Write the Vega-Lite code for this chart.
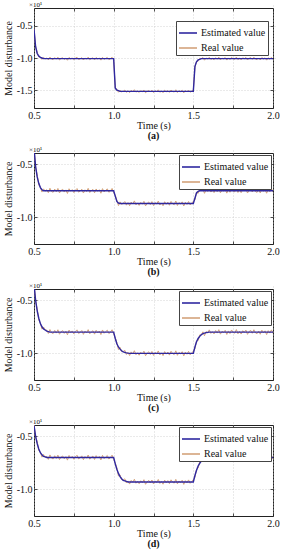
{
"$schema":"https://vega.github.io/schema/vega-lite/v6.json",
"background":"white",
"padding":{"left":2,"top":0,"right":0,"bottom":0},
"spacing":3,
"resolve":{"scale":{"color":"independent"},"legend":{"color":"independent"}},
"config":{
 "font":"Liberation Serif",
 "view":{"stroke":"#222","strokeWidth":1},
 "axis":{"labelFont":"Liberation Serif","titleFont":"Liberation Serif","labelFontSize":10,"titleFontSize":10,"titleFontWeight":"normal","labelColor":"#111","titleColor":"#111","domain":false,"tickColor":"#222","tickSize":3,"offset":-3,"tickWidth":0.8,"labelPadding":2,"minExtent":0,"gridColor":"#c4c4c4","gridDash":[1,2],"gridWidth":0.7},
 "axisX":{"titlePadding":0,"labelFlush":false},
 "axisY":{"titlePadding":3},
 "legend":{"strokeColor":"#444","fillColor":"#ffffff","padding":2,"symbolType":"M-1,0H1","symbolSize":324,"symbolStrokeWidth":1.6,"labelFont":"Liberation Serif","labelFontSize":10,"labelColor":"#111","rowPadding":0,"labelOffset":3,"cornerRadius":0}
},
"datasets":{"s":[
{"t":0.5,"ae":-0.55,"ar":-0.538,"be":-0.35,"br":-0.338,"ce":-0.35,"cr":-0.338,"de":-0.4,"dr":-0.388},
{"t":0.51,"ae":-0.82,"ar":-0.828,"be":-0.52,"br":-0.528,"ce":-0.5,"cr":-0.508,"de":-0.5,"dr":-0.508},
{"t":0.52,"ae":-0.93,"ar":-0.91,"be":-0.62,"br":-0.6,"ce":-0.6,"cr":-0.58,"de":-0.57,"dr":-0.55},
{"t":0.53,"ae":-0.97,"ar":-0.985,"be":-0.68,"br":-0.695,"ce":-0.67,"cr":-0.685,"de":-0.62,"dr":-0.635},
{"t":0.54,"ae":-0.99,"ar":-0.985,"be":-0.72,"br":-0.715,"ce":-0.72,"cr":-0.715,"de":-0.655,"dr":-0.65},
{"t":0.55,"ae":-1.0,"ar":-1.022,"be":-0.74,"br":-0.762,"ce":-0.75,"cr":-0.772,"de":-0.675,"dr":-0.697},
{"t":0.56,"ae":-1.01,"ar":-0.992,"be":-0.75,"br":-0.732,"ce":-0.77,"cr":-0.752,"de":-0.69,"dr":-0.672},
{"t":0.57,"ae":-1.01,"ar":-1.013,"be":-0.75,"br":-0.753,"ce":-0.78,"cr":-0.783,"de":-0.695,"dr":-0.698},
{"t":0.58,"ae":-1.01,"ar":-1.0,"be":-0.75,"br":-0.74,"ce":-0.79,"cr":-0.78,"de":-0.7,"dr":-0.69},
{"t":0.59,"ae":-1.01,"ar":-1.028,"be":-0.75,"br":-0.768,"ce":-0.795,"cr":-0.813,"de":-0.7,"dr":-0.718},
{"t":0.6,"ae":-1.01,"ar":-0.986,"be":-0.75,"br":-0.726,"ce":-0.8,"cr":-0.776,"de":-0.7,"dr":-0.676},
{"t":0.61,"ae":-1.01,"ar":-1.016,"be":-0.75,"br":-0.756,"ce":-0.8,"cr":-0.806,"de":-0.7,"dr":-0.706},
{"t":0.62,"ae":-1.01,"ar":-1.024,"be":-0.75,"br":-0.764,"ce":-0.8,"cr":-0.814,"de":-0.7,"dr":-0.714},
{"t":0.63,"ae":-1.01,"ar":-0.994,"be":-0.75,"br":-0.734,"ce":-0.8,"cr":-0.784,"de":-0.7,"dr":-0.684},
{"t":0.64,"ae":-1.01,"ar":-1.019,"be":-0.75,"br":-0.759,"ce":-0.8,"cr":-0.809,"de":-0.7,"dr":-0.709},
{"t":0.65,"ae":-1.01,"ar":-0.988,"be":-0.75,"br":-0.728,"ce":-0.8,"cr":-0.778,"de":-0.7,"dr":-0.678},
{"t":0.66,"ae":-1.01,"ar":-1.03,"be":-0.75,"br":-0.77,"ce":-0.8,"cr":-0.82,"de":-0.7,"dr":-0.72},
{"t":0.67,"ae":-1.01,"ar":-1.007,"be":-0.75,"br":-0.747,"ce":-0.8,"cr":-0.797,"de":-0.7,"dr":-0.697},
{"t":0.68,"ae":-1.01,"ar":-0.996,"be":-0.75,"br":-0.736,"ce":-0.8,"cr":-0.786,"de":-0.7,"dr":-0.686},
{"t":0.69,"ae":-1.01,"ar":-1.022,"be":-0.75,"br":-0.762,"ce":-0.8,"cr":-0.812,"de":-0.7,"dr":-0.712},
{"t":0.7,"ae":-1.01,"ar":-1.002,"be":-0.75,"br":-0.742,"ce":-0.8,"cr":-0.792,"de":-0.7,"dr":-0.692},
{"t":0.71,"ae":-1.01,"ar":-1.035,"be":-0.75,"br":-0.775,"ce":-0.8,"cr":-0.825,"de":-0.7,"dr":-0.725},
{"t":0.72,"ae":-1.01,"ar":-0.991,"be":-0.75,"br":-0.731,"ce":-0.8,"cr":-0.781,"de":-0.7,"dr":-0.681},
{"t":0.73,"ae":-1.01,"ar":-1.014,"be":-0.75,"br":-0.754,"ce":-0.8,"cr":-0.804,"de":-0.7,"dr":-0.704},
{"t":0.74,"ae":-1.01,"ar":-0.999,"be":-0.75,"br":-0.739,"ce":-0.8,"cr":-0.789,"de":-0.7,"dr":-0.689},
{"t":0.75,"ae":-1.01,"ar":-1.027,"be":-0.75,"br":-0.767,"ce":-0.8,"cr":-0.817,"de":-0.7,"dr":-0.717},
{"t":0.76,"ae":-1.01,"ar":-1.004,"be":-0.75,"br":-0.744,"ce":-0.8,"cr":-0.794,"de":-0.7,"dr":-0.694},
{"t":0.77,"ae":-1.01,"ar":-0.989,"be":-0.75,"br":-0.729,"ce":-0.8,"cr":-0.779,"de":-0.7,"dr":-0.679},
{"t":0.78,"ae":-1.01,"ar":-1.023,"be":-0.75,"br":-0.763,"ce":-0.8,"cr":-0.813,"de":-0.7,"dr":-0.713},
{"t":0.79,"ae":-1.01,"ar":-1.012,"be":-0.75,"br":-0.752,"ce":-0.8,"cr":-0.802,"de":-0.7,"dr":-0.702},
{"t":0.8,"ae":-1.01,"ar":-0.995,"be":-0.75,"br":-0.735,"ce":-0.8,"cr":-0.785,"de":-0.7,"dr":-0.685},
{"t":0.81,"ae":-1.01,"ar":-1.031,"be":-0.75,"br":-0.771,"ce":-0.8,"cr":-0.821,"de":-0.7,"dr":-0.721},
{"t":0.82,"ae":-1.01,"ar":-1.001,"be":-0.75,"br":-0.741,"ce":-0.8,"cr":-0.791,"de":-0.7,"dr":-0.691},
{"t":0.83,"ae":-1.01,"ar":-1.017,"be":-0.75,"br":-0.757,"ce":-0.8,"cr":-0.807,"de":-0.7,"dr":-0.707},
{"t":0.84,"ae":-1.01,"ar":-0.987,"be":-0.75,"br":-0.727,"ce":-0.8,"cr":-0.777,"de":-0.7,"dr":-0.677},
{"t":0.85,"ae":-1.01,"ar":-1.026,"be":-0.75,"br":-0.766,"ce":-0.8,"cr":-0.816,"de":-0.7,"dr":-0.716},
{"t":0.86,"ae":-1.01,"ar":-1.008,"be":-0.75,"br":-0.748,"ce":-0.8,"cr":-0.798,"de":-0.7,"dr":-0.698},
{"t":0.87,"ae":-1.01,"ar":-0.997,"be":-0.75,"br":-0.737,"ce":-0.8,"cr":-0.787,"de":-0.7,"dr":-0.687},
{"t":0.88,"ae":-1.01,"ar":-1.029,"be":-0.75,"br":-0.769,"ce":-0.8,"cr":-0.819,"de":-0.7,"dr":-0.719},
{"t":0.89,"ae":-1.01,"ar":-0.993,"be":-0.75,"br":-0.733,"ce":-0.8,"cr":-0.783,"de":-0.7,"dr":-0.683},
{"t":0.9,"ae":-1.01,"ar":-1.015,"be":-0.75,"br":-0.755,"ce":-0.8,"cr":-0.805,"de":-0.7,"dr":-0.705},
{"t":0.91,"ae":-1.01,"ar":-1.0,"be":-0.75,"br":-0.74,"ce":-0.8,"cr":-0.79,"de":-0.7,"dr":-0.69},
{"t":0.92,"ae":-1.01,"ar":-1.033,"be":-0.75,"br":-0.773,"ce":-0.8,"cr":-0.823,"de":-0.7,"dr":-0.723},
{"t":0.93,"ae":-1.01,"ar":-0.99,"be":-0.75,"br":-0.73,"ce":-0.8,"cr":-0.78,"de":-0.7,"dr":-0.68},
{"t":0.94,"ae":-1.01,"ar":-1.021,"be":-0.75,"br":-0.761,"ce":-0.8,"cr":-0.811,"de":-0.7,"dr":-0.711},
{"t":0.95,"ae":-1.01,"ar":-1.006,"be":-0.75,"br":-0.746,"ce":-0.8,"cr":-0.796,"de":-0.7,"dr":-0.696},
{"t":0.96,"ae":-1.01,"ar":-0.992,"be":-0.75,"br":-0.732,"ce":-0.8,"cr":-0.782,"de":-0.7,"dr":-0.682},
{"t":0.97,"ae":-1.01,"ar":-1.024,"be":-0.75,"br":-0.764,"ce":-0.8,"cr":-0.814,"de":-0.7,"dr":-0.714},
{"t":0.98,"ae":-1.01,"ar":-1.011,"be":-0.75,"br":-0.751,"ce":-0.8,"cr":-0.801,"de":-0.7,"dr":-0.701},
{"t":0.99,"ae":-1.01,"ar":-0.988,"be":-0.75,"br":-0.728,"ce":-0.8,"cr":-0.778,"de":-0.7,"dr":-0.678},
{"t":1.0,"ae":-1.01,"ar":-1.028,"be":-0.75,"br":-0.768,"ce":-0.8,"cr":-0.818,"de":-0.7,"dr":-0.718},
{"t":1.01,"ae":-1.47,"ar":-1.463,"be":-0.8,"br":-0.793,"ce":-0.86,"cr":-0.853,"de":-0.76,"dr":-0.753},
{"t":1.02,"ae":-1.5,"ar":-1.488,"be":-0.85,"br":-0.838,"ce":-0.91,"cr":-0.898,"de":-0.81,"dr":-0.798},
{"t":1.03,"ae":-1.51,"ar":-1.534,"be":-0.865,"br":-0.889,"ce":-0.94,"cr":-0.964,"de":-0.85,"dr":-0.874},
{"t":1.04,"ae":-1.52,"ar":-1.504,"be":-0.87,"br":-0.854,"ce":-0.96,"cr":-0.944,"de":-0.88,"dr":-0.864},
{"t":1.05,"ae":-1.52,"ar":-1.528,"be":-0.87,"br":-0.878,"ce":-0.975,"cr":-0.983,"de":-0.9,"dr":-0.908},
{"t":1.06,"ae":-1.52,"ar":-1.517,"be":-0.87,"br":-0.867,"ce":-0.985,"cr":-0.982,"de":-0.915,"dr":-0.912},
{"t":1.07,"ae":-1.52,"ar":-1.501,"be":-0.87,"br":-0.851,"ce":-0.99,"cr":-0.971,"de":-0.92,"dr":-0.901},
{"t":1.08,"ae":-1.52,"ar":-1.535,"be":-0.87,"br":-0.885,"ce":-0.995,"cr":-1.01,"de":-0.925,"dr":-0.94},
{"t":1.09,"ae":-1.52,"ar":-1.511,"be":-0.87,"br":-0.861,"ce":-0.998,"cr":-0.989,"de":-0.93,"dr":-0.921},
{"t":1.1,"ae":-1.52,"ar":-1.54,"be":-0.87,"br":-0.89,"ce":-1.0,"cr":-1.02,"de":-0.93,"dr":-0.95},
{"t":1.11,"ae":-1.52,"ar":-1.506,"be":-0.87,"br":-0.856,"ce":-1.0,"cr":-0.986,"de":-0.93,"dr":-0.916},
{"t":1.12,"ae":-1.52,"ar":-1.523,"be":-0.87,"br":-0.873,"ce":-1.0,"cr":-1.003,"de":-0.93,"dr":-0.933},
{"t":1.13,"ae":-1.52,"ar":-1.495,"be":-0.87,"br":-0.845,"ce":-1.0,"cr":-0.975,"de":-0.93,"dr":-0.905},
{"t":1.14,"ae":-1.52,"ar":-1.532,"be":-0.87,"br":-0.882,"ce":-1.0,"cr":-1.012,"de":-0.93,"dr":-0.942},
{"t":1.15,"ae":-1.52,"ar":-1.514,"be":-0.87,"br":-0.864,"ce":-1.0,"cr":-0.994,"de":-0.93,"dr":-0.924},
{"t":1.16,"ae":-1.52,"ar":-1.537,"be":-0.87,"br":-0.887,"ce":-1.0,"cr":-1.017,"de":-0.93,"dr":-0.947},
{"t":1.17,"ae":-1.52,"ar":-1.509,"be":-0.87,"br":-0.859,"ce":-1.0,"cr":-0.989,"de":-0.93,"dr":-0.919},
{"t":1.18,"ae":-1.52,"ar":-1.526,"be":-0.87,"br":-0.876,"ce":-1.0,"cr":-1.006,"de":-0.93,"dr":-0.936},
{"t":1.19,"ae":-1.52,"ar":-1.499,"be":-0.87,"br":-0.849,"ce":-1.0,"cr":-0.979,"de":-0.93,"dr":-0.909},
{"t":1.2,"ae":-1.52,"ar":-1.542,"be":-0.87,"br":-0.892,"ce":-1.0,"cr":-1.022,"de":-0.93,"dr":-0.952},
{"t":1.21,"ae":-1.52,"ar":-1.519,"be":-0.87,"br":-0.869,"ce":-1.0,"cr":-0.999,"de":-0.93,"dr":-0.929},
{"t":1.22,"ae":-1.52,"ar":-1.505,"be":-0.87,"br":-0.855,"ce":-1.0,"cr":-0.985,"de":-0.93,"dr":-0.915},
{"t":1.23,"ae":-1.52,"ar":-1.53,"be":-0.87,"br":-0.88,"ce":-1.0,"cr":-1.01,"de":-0.93,"dr":-0.94},
{"t":1.24,"ae":-1.52,"ar":-1.502,"be":-0.87,"br":-0.852,"ce":-1.0,"cr":-0.982,"de":-0.93,"dr":-0.912},
{"t":1.25,"ae":-1.52,"ar":-1.539,"be":-0.87,"br":-0.889,"ce":-1.0,"cr":-1.019,"de":-0.93,"dr":-0.949},
{"t":1.26,"ae":-1.52,"ar":-1.512,"be":-0.87,"br":-0.862,"ce":-1.0,"cr":-0.992,"de":-0.93,"dr":-0.922},
{"t":1.27,"ae":-1.52,"ar":-1.524,"be":-0.87,"br":-0.874,"ce":-1.0,"cr":-1.004,"de":-0.93,"dr":-0.934},
{"t":1.28,"ae":-1.52,"ar":-1.497,"be":-0.87,"br":-0.847,"ce":-1.0,"cr":-0.977,"de":-0.93,"dr":-0.907},
{"t":1.29,"ae":-1.52,"ar":-1.534,"be":-0.87,"br":-0.884,"ce":-1.0,"cr":-1.014,"de":-0.93,"dr":-0.944},
{"t":1.3,"ae":-1.52,"ar":-1.515,"be":-0.87,"br":-0.865,"ce":-1.0,"cr":-0.995,"de":-0.93,"dr":-0.925},
{"t":1.31,"ae":-1.52,"ar":-1.541,"be":-0.87,"br":-0.891,"ce":-1.0,"cr":-1.021,"de":-0.93,"dr":-0.951},
{"t":1.32,"ae":-1.52,"ar":-1.503,"be":-0.87,"br":-0.853,"ce":-1.0,"cr":-0.983,"de":-0.93,"dr":-0.913},
{"t":1.33,"ae":-1.52,"ar":-1.527,"be":-0.87,"br":-0.877,"ce":-1.0,"cr":-1.007,"de":-0.93,"dr":-0.937},
{"t":1.34,"ae":-1.52,"ar":-1.507,"be":-0.87,"br":-0.857,"ce":-1.0,"cr":-0.987,"de":-0.93,"dr":-0.917},
{"t":1.35,"ae":-1.52,"ar":-1.536,"be":-0.87,"br":-0.886,"ce":-1.0,"cr":-1.016,"de":-0.93,"dr":-0.946},
{"t":1.36,"ae":-1.52,"ar":-1.5,"be":-0.87,"br":-0.85,"ce":-1.0,"cr":-0.98,"de":-0.93,"dr":-0.91},
{"t":1.37,"ae":-1.52,"ar":-1.522,"be":-0.87,"br":-0.872,"ce":-1.0,"cr":-1.002,"de":-0.93,"dr":-0.932},
{"t":1.38,"ae":-1.52,"ar":-1.531,"be":-0.87,"br":-0.881,"ce":-1.0,"cr":-1.011,"de":-0.93,"dr":-0.941},
{"t":1.39,"ae":-1.52,"ar":-1.496,"be":-0.87,"br":-0.846,"ce":-1.0,"cr":-0.976,"de":-0.93,"dr":-0.906},
{"t":1.4,"ae":-1.52,"ar":-1.538,"be":-0.87,"br":-0.888,"ce":-1.0,"cr":-1.018,"de":-0.93,"dr":-0.948},
{"t":1.41,"ae":-1.52,"ar":-1.511,"be":-0.87,"br":-0.861,"ce":-1.0,"cr":-0.991,"de":-0.93,"dr":-0.921},
{"t":1.42,"ae":-1.52,"ar":-1.525,"be":-0.87,"br":-0.875,"ce":-1.0,"cr":-1.005,"de":-0.93,"dr":-0.935},
{"t":1.43,"ae":-1.52,"ar":-1.504,"be":-0.87,"br":-0.854,"ce":-1.0,"cr":-0.984,"de":-0.93,"dr":-0.914},
{"t":1.44,"ae":-1.52,"ar":-1.543,"be":-0.87,"br":-0.893,"ce":-1.0,"cr":-1.023,"de":-0.93,"dr":-0.953},
{"t":1.45,"ae":-1.52,"ar":-1.508,"be":-0.87,"br":-0.858,"ce":-1.0,"cr":-0.988,"de":-0.93,"dr":-0.918},
{"t":1.46,"ae":-1.52,"ar":-1.528,"be":-0.87,"br":-0.878,"ce":-1.0,"cr":-1.008,"de":-0.93,"dr":-0.938},
{"t":1.47,"ae":-1.52,"ar":-1.501,"be":-0.87,"br":-0.851,"ce":-1.0,"cr":-0.981,"de":-0.93,"dr":-0.911},
{"t":1.48,"ae":-1.52,"ar":-1.533,"be":-0.87,"br":-0.883,"ce":-1.0,"cr":-1.013,"de":-0.93,"dr":-0.943},
{"t":1.49,"ae":-1.52,"ar":-1.517,"be":-0.87,"br":-0.867,"ce":-1.0,"cr":-0.997,"de":-0.93,"dr":-0.927},
{"t":1.5,"ae":-1.52,"ar":-1.498,"be":-0.87,"br":-0.848,"ce":-1.0,"cr":-0.978,"de":-0.93,"dr":-0.908},
{"t":1.51,"ae":-1.13,"ar":-1.145,"be":-0.82,"br":-0.835,"ce":-0.94,"cr":-0.955,"de":-0.87,"dr":-0.885},
{"t":1.52,"ae":-1.06,"ar":-1.054,"be":-0.77,"br":-0.764,"ce":-0.89,"cr":-0.884,"de":-0.82,"dr":-0.814},
{"t":1.53,"ae":-1.03,"ar":-1.05,"be":-0.755,"br":-0.775,"ce":-0.86,"cr":-0.88,"de":-0.78,"dr":-0.8},
{"t":1.54,"ae":-1.02,"ar":-1.006,"be":-0.75,"br":-0.736,"ce":-0.84,"cr":-0.826,"de":-0.755,"dr":-0.741},
{"t":1.55,"ae":-1.01,"ar":-1.011,"be":-0.75,"br":-0.751,"ce":-0.825,"cr":-0.826,"de":-0.735,"dr":-0.736},
{"t":1.56,"ae":-1.01,"ar":-0.992,"be":-0.75,"br":-0.732,"ce":-0.815,"cr":-0.797,"de":-0.72,"dr":-0.702},
{"t":1.57,"ae":-1.01,"ar":-1.034,"be":-0.75,"br":-0.774,"ce":-0.81,"cr":-0.834,"de":-0.71,"dr":-0.734},
{"t":1.58,"ae":-1.01,"ar":-1.0,"be":-0.75,"br":-0.74,"ce":-0.805,"cr":-0.795,"de":-0.705,"dr":-0.695},
{"t":1.59,"ae":-1.01,"ar":-1.016,"be":-0.75,"br":-0.756,"ce":-0.802,"cr":-0.808,"de":-0.7,"dr":-0.706},
{"t":1.6,"ae":-1.01,"ar":-0.989,"be":-0.75,"br":-0.729,"ce":-0.8,"cr":-0.779,"de":-0.7,"dr":-0.679},
{"t":1.61,"ae":-1.01,"ar":-1.022,"be":-0.75,"br":-0.762,"ce":-0.8,"cr":-0.812,"de":-0.7,"dr":-0.712},
{"t":1.62,"ae":-1.01,"ar":-1.006,"be":-0.75,"br":-0.746,"ce":-0.8,"cr":-0.796,"de":-0.7,"dr":-0.696},
{"t":1.63,"ae":-1.01,"ar":-1.027,"be":-0.75,"br":-0.767,"ce":-0.8,"cr":-0.817,"de":-0.7,"dr":-0.717},
{"t":1.64,"ae":-1.01,"ar":-0.995,"be":-0.75,"br":-0.735,"ce":-0.8,"cr":-0.785,"de":-0.7,"dr":-0.685},
{"t":1.65,"ae":-1.01,"ar":-1.019,"be":-0.75,"br":-0.759,"ce":-0.8,"cr":-0.809,"de":-0.7,"dr":-0.709},
{"t":1.66,"ae":-1.01,"ar":-0.987,"be":-0.75,"br":-0.727,"ce":-0.8,"cr":-0.777,"de":-0.7,"dr":-0.677},
{"t":1.67,"ae":-1.01,"ar":-1.029,"be":-0.75,"br":-0.769,"ce":-0.8,"cr":-0.819,"de":-0.7,"dr":-0.719},
{"t":1.68,"ae":-1.01,"ar":-1.003,"be":-0.75,"br":-0.743,"ce":-0.8,"cr":-0.793,"de":-0.7,"dr":-0.693},
{"t":1.69,"ae":-1.01,"ar":-1.013,"be":-0.75,"br":-0.753,"ce":-0.8,"cr":-0.803,"de":-0.7,"dr":-0.703},
{"t":1.7,"ae":-1.01,"ar":-0.993,"be":-0.75,"br":-0.733,"ce":-0.8,"cr":-0.783,"de":-0.7,"dr":-0.683},
{"t":1.71,"ae":-1.01,"ar":-1.032,"be":-0.75,"br":-0.772,"ce":-0.8,"cr":-0.822,"de":-0.7,"dr":-0.722},
{"t":1.72,"ae":-1.01,"ar":-0.999,"be":-0.75,"br":-0.739,"ce":-0.8,"cr":-0.789,"de":-0.7,"dr":-0.689},
{"t":1.73,"ae":-1.01,"ar":-1.024,"be":-0.75,"br":-0.764,"ce":-0.8,"cr":-0.814,"de":-0.7,"dr":-0.714},
{"t":1.74,"ae":-1.01,"ar":-0.99,"be":-0.75,"br":-0.73,"ce":-0.8,"cr":-0.78,"de":-0.7,"dr":-0.68},
{"t":1.75,"ae":-1.01,"ar":-1.014,"be":-0.75,"br":-0.754,"ce":-0.8,"cr":-0.804,"de":-0.7,"dr":-0.704},
{"t":1.76,"ae":-1.01,"ar":-1.02,"be":-0.75,"br":-0.76,"ce":-0.8,"cr":-0.81,"de":-0.7,"dr":-0.71},
{"t":1.77,"ae":-1.01,"ar":-0.986,"be":-0.75,"br":-0.726,"ce":-0.8,"cr":-0.776,"de":-0.7,"dr":-0.676},
{"t":1.78,"ae":-1.01,"ar":-1.026,"be":-0.75,"br":-0.766,"ce":-0.8,"cr":-0.816,"de":-0.7,"dr":-0.716},
{"t":1.79,"ae":-1.01,"ar":-1.002,"be":-0.75,"br":-0.742,"ce":-0.8,"cr":-0.792,"de":-0.7,"dr":-0.692},
{"t":1.8,"ae":-1.01,"ar":-1.028,"be":-0.75,"br":-0.768,"ce":-0.8,"cr":-0.818,"de":-0.7,"dr":-0.718},
{"t":1.81,"ae":-1.01,"ar":-0.997,"be":-0.75,"br":-0.737,"ce":-0.8,"cr":-0.787,"de":-0.7,"dr":-0.687},
{"t":1.82,"ae":-1.01,"ar":-1.012,"be":-0.75,"br":-0.752,"ce":-0.8,"cr":-0.802,"de":-0.7,"dr":-0.702},
{"t":1.83,"ae":-1.01,"ar":-0.991,"be":-0.75,"br":-0.731,"ce":-0.8,"cr":-0.781,"de":-0.7,"dr":-0.681},
{"t":1.84,"ae":-1.01,"ar":-1.031,"be":-0.75,"br":-0.771,"ce":-0.8,"cr":-0.821,"de":-0.7,"dr":-0.721},
{"t":1.85,"ae":-1.01,"ar":-1.005,"be":-0.75,"br":-0.745,"ce":-0.8,"cr":-0.795,"de":-0.7,"dr":-0.695},
{"t":1.86,"ae":-1.01,"ar":-0.994,"be":-0.75,"br":-0.734,"ce":-0.8,"cr":-0.784,"de":-0.7,"dr":-0.684},
{"t":1.87,"ae":-1.01,"ar":-1.021,"be":-0.75,"br":-0.761,"ce":-0.8,"cr":-0.811,"de":-0.7,"dr":-0.711},
{"t":1.88,"ae":-1.01,"ar":-0.988,"be":-0.75,"br":-0.728,"ce":-0.8,"cr":-0.778,"de":-0.7,"dr":-0.678},
{"t":1.89,"ae":-1.01,"ar":-1.017,"be":-0.75,"br":-0.757,"ce":-0.8,"cr":-0.807,"de":-0.7,"dr":-0.707},
{"t":1.9,"ae":-1.01,"ar":-1.025,"be":-0.75,"br":-0.765,"ce":-0.8,"cr":-0.815,"de":-0.7,"dr":-0.715},
{"t":1.91,"ae":-1.01,"ar":-1.0,"be":-0.75,"br":-0.74,"ce":-0.8,"cr":-0.79,"de":-0.7,"dr":-0.69},
{"t":1.92,"ae":-1.01,"ar":-1.03,"be":-0.75,"br":-0.77,"ce":-0.8,"cr":-0.82,"de":-0.7,"dr":-0.72},
{"t":1.93,"ae":-1.01,"ar":-0.992,"be":-0.75,"br":-0.732,"ce":-0.8,"cr":-0.782,"de":-0.7,"dr":-0.682},
{"t":1.94,"ae":-1.01,"ar":-1.015,"be":-0.75,"br":-0.755,"ce":-0.8,"cr":-0.805,"de":-0.7,"dr":-0.705},
{"t":1.95,"ae":-1.01,"ar":-0.998,"be":-0.75,"br":-0.738,"ce":-0.8,"cr":-0.788,"de":-0.7,"dr":-0.688},
{"t":1.96,"ae":-1.01,"ar":-1.033,"be":-0.75,"br":-0.773,"ce":-0.8,"cr":-0.823,"de":-0.7,"dr":-0.723},
{"t":1.97,"ae":-1.01,"ar":-0.996,"be":-0.75,"br":-0.736,"ce":-0.8,"cr":-0.786,"de":-0.7,"dr":-0.686},
{"t":1.98,"ae":-1.01,"ar":-1.019,"be":-0.75,"br":-0.759,"ce":-0.8,"cr":-0.809,"de":-0.7,"dr":-0.709},
{"t":1.99,"ae":-1.01,"ar":-0.989,"be":-0.75,"br":-0.729,"ce":-0.8,"cr":-0.779,"de":-0.7,"dr":-0.679},
{"t":2.0,"ae":-1.01,"ar":-1.023,"be":-0.75,"br":-0.763,"ce":-0.8,"cr":-0.813,"de":-0.7,"dr":-0.713}
]},
"vconcat":[
{"width":239,"height":100,"data":{"name":"s"},
 "title":{"text":"(a)","orient":"bottom","fontWeight":"bold","fontSize":10,"font":"Liberation Serif","offset":1,"color":"#111"},
 "resolve":{"axis":{"x":"independent","y":"independent"}},
 "layer":[
  {"mark":{"type":"line","clip":true,"strokeWidth":1},
   "encoding":{
    "x":{"field":"t","type":"quantitative","scale":{"domain":[0.5,2],"nice":false,"zero":false,"padding":0},"axis":{"title":"Time (s)","values":[0.5,0.75,1,1.25,1.5,1.75,2],"labelExpr":"datum.value % 0.5 == 0 ? format(datum.value, '.1f') : ''","grid":true}},
    "y":{"field":"ar","type":"quantitative","scale":{"domain":[-1.78,-0.22],"nice":false,"zero":false,"padding":0},"axis":{"title":"Model disturbance","values":[-0.5,-1,-1.5],"labelExpr":"replace(format(datum.value, '.1f'), '−', '-')","grid":true}},
    "color":{"datum":"Real value","type":"nominal","scale":{"domain":["Estimated value","Real value"],"range":["#2f28a0","#d4a37b"]},"legend":{"title":null,"orient":"none","legendX":142,"legendY":13}}}},
  {"mark":{"type":"line","clip":true,"strokeWidth":1.4},
   "encoding":{
    "x":{"field":"t","type":"quantitative","scale":{"domain":[0.5,2],"nice":false,"zero":false,"padding":0},"axis":{"orient":"top","labels":false,"title":null,"grid":false,"values":[0.5,0.75,1,1.25,1.5,1.75,2]}},
    "y":{"field":"ae","type":"quantitative","scale":{"domain":[-1.78,-0.22],"nice":false,"zero":false,"padding":0},"axis":{"orient":"right","labels":false,"title":null,"grid":false,"values":[-0.5,-1,-1.5]}},
    "color":{"datum":"Estimated value","type":"nominal"}}},
  {"data":{"values":[{"note":"×10¹"}]},
   "mark":{"type":"text","align":"left","baseline":"bottom","dx":-5,"dy":0,"fontSize":7,"font":"Liberation Serif","color":"#111"},
   "encoding":{"x":{"datum":0.5,"type":"quantitative","scale":{"domain":[0.5,2],"nice":false,"zero":false,"padding":0},"axis":null},"y":{"datum":-0.22,"type":"quantitative","scale":{"domain":[-1.78,-0.22],"nice":false,"zero":false,"padding":0},"axis":null},"text":{"field":"note"}}}
 ]},
{"width":239,"height":91,"data":{"name":"s"},
 "title":{"text":"(b)","orient":"bottom","fontWeight":"bold","fontSize":10,"font":"Liberation Serif","offset":1,"color":"#111"},
 "resolve":{"axis":{"x":"independent","y":"independent"}},
 "layer":[
  {"mark":{"type":"line","clip":true,"strokeWidth":1},
   "encoding":{
    "x":{"field":"t","type":"quantitative","scale":{"domain":[0.5,2],"nice":false,"zero":false,"padding":0},"axis":{"title":"Time (s)","values":[0.5,0.75,1,1.25,1.5,1.75,2],"labelExpr":"datum.value % 0.5 == 0 ? format(datum.value, '.1f') : ''","grid":true}},
    "y":{"field":"br","type":"quantitative","scale":{"domain":[-1.25,-0.395],"nice":false,"zero":false,"padding":0},"axis":{"title":"Model disturbance","values":[-0.5,-1],"labelExpr":"replace(format(datum.value, '.1f'), '−', '-')","grid":true}},
    "color":{"datum":"Real value","type":"nominal","scale":{"domain":["Estimated value","Real value"],"range":["#2f28a0","#d4a37b"]},"legend":{"title":null,"orient":"top-right","offset":2}}}},
  {"mark":{"type":"line","clip":true,"strokeWidth":1.4},
   "encoding":{
    "x":{"field":"t","type":"quantitative","scale":{"domain":[0.5,2],"nice":false,"zero":false,"padding":0},"axis":{"orient":"top","labels":false,"title":null,"grid":false,"values":[0.5,0.75,1,1.25,1.5,1.75,2]}},
    "y":{"field":"be","type":"quantitative","scale":{"domain":[-1.25,-0.395],"nice":false,"zero":false,"padding":0},"axis":{"orient":"right","labels":false,"title":null,"grid":false,"values":[-0.5,-1]}},
    "color":{"datum":"Estimated value","type":"nominal"}}},
  {"data":{"values":[{"note":"×10¹"}]},
   "mark":{"type":"text","align":"left","baseline":"bottom","dx":-5,"dy":0,"fontSize":7,"font":"Liberation Serif","color":"#111"},
   "encoding":{"x":{"datum":0.5,"type":"quantitative","scale":{"domain":[0.5,2],"nice":false,"zero":false,"padding":0},"axis":null},"y":{"datum":-0.395,"type":"quantitative","scale":{"domain":[-1.25,-0.395],"nice":false,"zero":false,"padding":0},"axis":null},"text":{"field":"note"}}}
 ]},
{"width":239,"height":91,"data":{"name":"s"},
 "title":{"text":"(c)","orient":"bottom","fontWeight":"bold","fontSize":10,"font":"Liberation Serif","offset":1,"color":"#111"},
 "resolve":{"axis":{"x":"independent","y":"independent"}},
 "layer":[
  {"mark":{"type":"line","clip":true,"strokeWidth":1},
   "encoding":{
    "x":{"field":"t","type":"quantitative","scale":{"domain":[0.5,2],"nice":false,"zero":false,"padding":0},"axis":{"title":"Time (s)","values":[0.5,0.75,1,1.25,1.5,1.75,2],"labelExpr":"datum.value % 0.5 == 0 ? format(datum.value, '.1f') : ''","grid":true}},
    "y":{"field":"cr","type":"quantitative","scale":{"domain":[-1.25,-0.395],"nice":false,"zero":false,"padding":0},"axis":{"title":"Model disturbance","values":[-0.5,-1],"labelExpr":"replace(format(datum.value, '.1f'), '−', '-')","grid":true}},
    "color":{"datum":"Real value","type":"nominal","scale":{"domain":["Estimated value","Real value"],"range":["#2f28a0","#d4a37b"]},"legend":{"title":null,"orient":"top-right","offset":2}}}},
  {"mark":{"type":"line","clip":true,"strokeWidth":1.4},
   "encoding":{
    "x":{"field":"t","type":"quantitative","scale":{"domain":[0.5,2],"nice":false,"zero":false,"padding":0},"axis":{"orient":"top","labels":false,"title":null,"grid":false,"values":[0.5,0.75,1,1.25,1.5,1.75,2]}},
    "y":{"field":"ce","type":"quantitative","scale":{"domain":[-1.25,-0.395],"nice":false,"zero":false,"padding":0},"axis":{"orient":"right","labels":false,"title":null,"grid":false,"values":[-0.5,-1]}},
    "color":{"datum":"Estimated value","type":"nominal"}}},
  {"data":{"values":[{"note":"×10¹"}]},
   "mark":{"type":"text","align":"left","baseline":"bottom","dx":-5,"dy":0,"fontSize":7,"font":"Liberation Serif","color":"#111"},
   "encoding":{"x":{"datum":0.5,"type":"quantitative","scale":{"domain":[0.5,2],"nice":false,"zero":false,"padding":0},"axis":null},"y":{"datum":-0.395,"type":"quantitative","scale":{"domain":[-1.25,-0.395],"nice":false,"zero":false,"padding":0},"axis":null},"text":{"field":"note"}}}
 ]},
{"width":239,"height":91,"data":{"name":"s"},
 "title":{"text":"(d)","orient":"bottom","fontWeight":"bold","fontSize":10,"font":"Liberation Serif","offset":1,"color":"#111"},
 "resolve":{"axis":{"x":"independent","y":"independent"}},
 "layer":[
  {"mark":{"type":"line","clip":true,"strokeWidth":1},
   "encoding":{
    "x":{"field":"t","type":"quantitative","scale":{"domain":[0.5,2],"nice":false,"zero":false,"padding":0},"axis":{"title":"Time (s)","values":[0.5,0.75,1,1.25,1.5,1.75,2],"labelExpr":"datum.value % 0.5 == 0 ? format(datum.value, '.1f') : ''","grid":true}},
    "y":{"field":"dr","type":"quantitative","scale":{"domain":[-1.25,-0.395],"nice":false,"zero":false,"padding":0},"axis":{"title":"Model disturbance","values":[-0.5,-1],"labelExpr":"replace(format(datum.value, '.1f'), '−', '-')","grid":true}},
    "color":{"datum":"Real value","type":"nominal","scale":{"domain":["Estimated value","Real value"],"range":["#2f28a0","#d4a37b"]},"legend":{"title":null,"orient":"top-right","offset":2}}}},
  {"mark":{"type":"line","clip":true,"strokeWidth":1.4},
   "encoding":{
    "x":{"field":"t","type":"quantitative","scale":{"domain":[0.5,2],"nice":false,"zero":false,"padding":0},"axis":{"orient":"top","labels":false,"title":null,"grid":false,"values":[0.5,0.75,1,1.25,1.5,1.75,2]}},
    "y":{"field":"de","type":"quantitative","scale":{"domain":[-1.25,-0.395],"nice":false,"zero":false,"padding":0},"axis":{"orient":"right","labels":false,"title":null,"grid":false,"values":[-0.5,-1]}},
    "color":{"datum":"Estimated value","type":"nominal"}}},
  {"data":{"values":[{"note":"×10¹"}]},
   "mark":{"type":"text","align":"left","baseline":"bottom","dx":-5,"dy":0,"fontSize":7,"font":"Liberation Serif","color":"#111"},
   "encoding":{"x":{"datum":0.5,"type":"quantitative","scale":{"domain":[0.5,2],"nice":false,"zero":false,"padding":0},"axis":null},"y":{"datum":-0.395,"type":"quantitative","scale":{"domain":[-1.25,-0.395],"nice":false,"zero":false,"padding":0},"axis":null},"text":{"field":"note"}}}
 ]}
]
}
